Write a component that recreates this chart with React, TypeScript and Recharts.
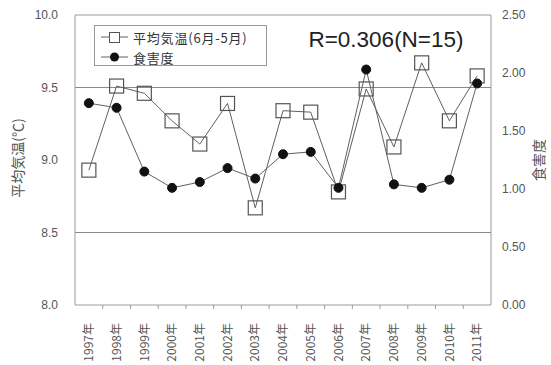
import React from "react";
import { ComposedChart, Line, ReferenceLine, XAxis, YAxis } from "recharts";

const years = [
  "1997年", "1998年", "1999年", "2000年", "2001年", "2002年", "2003年", "2004年",
  "2005年", "2006年", "2007年", "2008年", "2009年", "2010年", "2011年",
];
// 6月〜翌5月の平均気温 (℃)
const meanTemp = [
  8.93, 9.51, 9.46, 9.27, 9.11, 9.39, 8.67, 9.34, 9.33, 8.78, 9.49, 9.09, 9.67, 9.27, 9.58,
];
// 食害度
const damage = [
  1.74, 1.7, 1.15, 1.01, 1.06, 1.18, 1.09, 1.3, 1.32, 1.01, 2.03, 1.04, 1.01, 1.08, 1.91,
];
const tempTicks = [8.0, 8.5, 9.0, 9.5, 10.0];
const damageTicks = [0, 0.5, 1.0, 1.5, 2.0, 2.5];

const data = years.map((year, i) => ({ year, temp: meanTemp[i], damage: damage[i] }));

const FONT = '"Liberation Sans", Arial, sans-serif';
const JP = '"Noto Sans CJK JP", sans-serif';
const FRAME = "#9a9a9a";
const LINE = "#606060";

const SquareDot = (props: any) => {
  const { cx, cy, index } = props;
  return (
    <rect key={`sq-${index}`} x={cx - 7} y={cy - 7} width={14} height={14} fill="none" stroke="#555" strokeWidth={1.2} />
  );
};

// year label rotated, plus a small tick on the left edge of each category band
const YearTick = (props: any) => {
  const { x, y, payload, index } = props;
  const half = payload.offset ?? 0;
  return (
    <g>
      {index > 0 && <line x1={x - half} y1={y - 8} x2={x - half} y2={y - 4} stroke={FRAME} />}
      <text
        x={x}
        y={y + 10}
        transform={`rotate(-90 ${x} ${y + 10})`}
        textAnchor="end"
        dy="0.35em"
        fontSize={12}
        fontFamily={JP}
        fill="#555"
      >
        {payload.value}
      </text>
    </g>
  );
};

const legendRow = { display: "flex", alignItems: "center", height: 20 } as const;

const LegendBox = () => (
  <div
    style={{
      position: "absolute",
      left: 94,
      top: 25,
      width: 173,
      height: 41,
      border: `1px solid ${FRAME}`,
      background: "#fff",
      boxSizing: "border-box",
      fontFamily: JP,
      fontSize: 13,
      color: "#333",
      padding: "1px 0 0 5px",
      lineHeight: "15px",
    }}
  >
    <div style={legendRow}>
      <svg width={30} height={18}>
        <line x1={1} y1={9} x2={28} y2={9} stroke={LINE} />
        <rect x={9.5} y={4.5} width={10} height={10} fill="#fff" stroke="#555" />
      </svg>
      <span style={{ marginLeft: 3, letterSpacing: 0.8 }}>平均気温(6月-5月)</span>
    </div>
    <div style={legendRow}>
      <svg width={30} height={18}>
        <line x1={1} y1={9} x2={28} y2={9} stroke={LINE} />
        <circle cx={14.5} cy={9} r={4.5} fill="#111" />
      </svg>
      <span style={{ marginLeft: 3, letterSpacing: 0.8 }}>食害度</span>
    </div>
  </div>
);

export default function App() {
  return (
    <div style={{ position: "absolute", left: 0, top: 0, width: 551, height: 365, background: "#fff" }}>
      <ComposedChart width={551} height={365} data={data} margin={{ top: 15, right: 0, bottom: 0, left: 0 }}>
        <XAxis
          dataKey="year"
          scale="band"
          height={60}
          interval={0}
          tickLine={false}
          axisLine={{ stroke: FRAME }}
          tick={<YearTick />}
        />
        <YAxis
          yAxisId="left"
          domain={[8, 10]}
          ticks={tempTicks}
          width={75}
          tickFormatter={(v: number) => v.toFixed(1)}
          tickLine={false}
          tickMargin={11}
          axisLine={{ stroke: FRAME }}
          tick={{ fontSize: 12, fill: "#555", fontFamily: FONT }}
        />
        <YAxis
          yAxisId="right"
          orientation="right"
          domain={[0, 2.5]}
          ticks={damageTicks}
          width={60}
          tickFormatter={(v: number) => v.toFixed(2)}
          tickLine={false}
          tickMargin={5}
          axisLine={{ stroke: FRAME }}
          tick={{ fontSize: 12, fill: "#555", fontFamily: FONT }}
        />
        <ReferenceLine yAxisId="left" y={10} stroke={FRAME} />
        <ReferenceLine yAxisId="left" y={9.5} stroke="#8a8a8a" />
        <ReferenceLine yAxisId="left" y={8.5} stroke="#8a8a8a" />
        <Line
          yAxisId="left"
          dataKey="temp"
          stroke={LINE}
          strokeWidth={1}
          dot={SquareDot}
          activeDot={false}
          isAnimationActive={false}
        />
        <Line
          yAxisId="right"
          dataKey="damage"
          stroke={LINE}
          strokeWidth={1}
          dot={{ r: 4.5, fill: "#111", stroke: "#111", strokeWidth: 1 }}
          activeDot={false}
          isAnimationActive={false}
        />
        <text x={386} y={47} textAnchor="middle" fontSize={22.5} fontFamily={FONT} fill="#222">
          R=0.306(N=15)
        </text>
        <text
          x={17}
          y={158}
          transform="rotate(-90 17 158)"
          textAnchor="middle"
          dominantBaseline="central"
          fontSize={14}
          fontFamily={JP}
          fill="#555"
        >
          平均気温(℃)
        </text>
        <text
          x={538}
          y={160}
          transform="rotate(-90 538 160)"
          textAnchor="middle"
          dominantBaseline="central"
          fontSize={14}
          fontFamily={JP}
          fill="#555"
        >
          食害度
        </text>
      </ComposedChart>
      <LegendBox />
    </div>
  );
}
